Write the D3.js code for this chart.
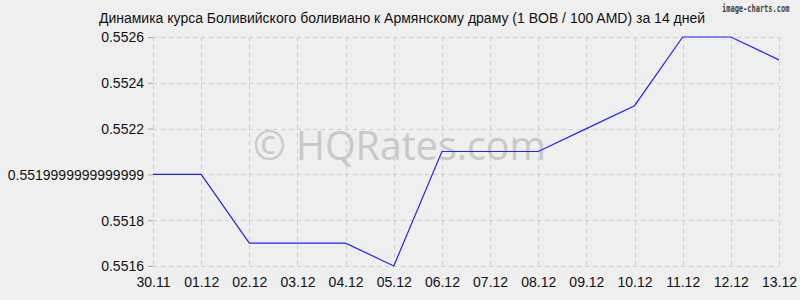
<!DOCTYPE html>
<html>
<head>
<meta charset="utf-8">
<script src="https://cdn.jsdelivr.net/npm/d3@7"></script>
<style>
  body { margin: 0; background: #efefef; }
  svg { display: block; font-family: "Liberation Sans", Arial, sans-serif; }
</style>
</head>
<body>
<svg width="800" height="300"></svg>
<script>
const svg = d3.select("svg");

const width = +svg.attr("width");
const height = +svg.attr("height");

const titleText = "Динамика курса Боливийского боливиано к Армянскому драму (1 BOB / 100 AMD) за 14 дней";

// Dates and rates
const dates = ["30.11", "01.12", "02.12", "03.12", "04.12", "05.12", "06.12",
               "07.12", "08.12", "09.12", "10.12", "11.12", "12.12", "13.12"];
const rates = [0.5520, 0.5520, 0.5517, 0.5517, 0.5517, 0.5516, 0.5521,
               0.5521, 0.5521, 0.5522, 0.5523, 0.5526, 0.5526, 0.5525];

// Y tick values and the labels as the source printed them
const yTicks = [0.5516, 0.5518, 0.5520, 0.5522, 0.5524, 0.5526];
const yTickLabels = ["0.5516", "0.5518", "0.5519999999999999", "0.5522", "0.5524", "0.5526"];

const margin = { top: 37, right: 21, bottom: 34, left: 153 };

const x = d3.scalePoint()
    .domain(dates)
    .range([margin.left, width - margin.right]);

const y = d3.scaleLinear()
    .domain([0.5516, 0.5526])
    .range([height - margin.bottom, margin.top]);

svg.append("rect")
    .attr("width", width)
    .attr("height", height)
    .attr("fill", "#efefef");

// Watermark
svg.append("text")
    .attr("x", 253)
    .attr("y", 160)
    .attr("font-family", "'Open Sans', 'DejaVu Sans', sans-serif")
    .attr("font-size", 41)
    .attr("textLength", 293)
    .attr("lengthAdjust", "spacingAndGlyphs")
    .attr("fill", "#c9c9c9")
    .text("© HQRates.com");

// Grid
const grid = svg.append("g")
    .attr("stroke", "#cccccc")
    .attr("stroke-dasharray", "4,4")
    .attr("stroke-width", 1);

grid.selectAll("line.v").data(dates)
    .enter().append("line")
    .attr("class", "v")
    .attr("x1", d => Math.round(x(d)) + 0.5)
    .attr("x2", d => Math.round(x(d)) + 0.5)
    .attr("y1", y(0.5526))
    .attr("y2", y(0.5516));

grid.selectAll("line.h").data(yTicks)
    .enter().append("line")
    .attr("class", "h")
    .attr("x1", x(dates[0]))
    .attr("x2", x(dates[dates.length - 1]))
    .attr("y1", d => Math.round(y(d)) + 0.5)
    .attr("y2", d => Math.round(y(d)) + 0.5);

// Axes
const yAxis = d3.axisLeft(y)
    .tickValues(yTicks)
    .tickFormat((d, i) => yTickLabels[i])
    .tickSize(5)
    .tickPadding(4);

const xAxis = d3.axisBottom(x)
    .tickSize(0)
    .tickPadding(11);

const gy = svg.append("g")
    .attr("transform", `translate(${margin.left},0)`)
    .call(yAxis);

const gx = svg.append("g")
    .attr("transform", `translate(0,${height - margin.bottom})`)
    .call(xAxis);

[gx, gy].forEach(g => {
    g.select(".domain").remove();
    g.selectAll("line").attr("stroke", "#aaaaaa");
    g.selectAll("text")
        .attr("font-family", "'Liberation Sans', Arial, sans-serif")
        .attr("font-size", 14)
        .attr("fill", "#111");
});
gy.selectAll("text").attr("dy", "0.35em");

// Line
const line = d3.line()
    .x((d, i) => x(dates[i]))
    .y(d => y(d));

svg.append("path")
    .datum(rates)
    .attr("fill", "none")
    .attr("stroke", "#2222ff")
    .attr("stroke-width", 1.2)
    .attr("d", line);

// Title
svg.append("text")
    .attr("x", 402)
    .attr("y", 23)
    .attr("text-anchor", "middle")
    .attr("font-size", 14)
    .attr("fill", "#111")
    .text(titleText);

// Credit (horizontally squeezed monospace)
svg.append("text")
    .attr("transform", "translate(722,12) scale(0.7,1)")
    .attr("font-family", "'DejaVu Sans Mono', monospace")
    .attr("font-size", 10)
    .attr("font-weight", "bold")
    .attr("fill", "#444")
    .text("image-charts.com");
</script>
</body>
</html>
